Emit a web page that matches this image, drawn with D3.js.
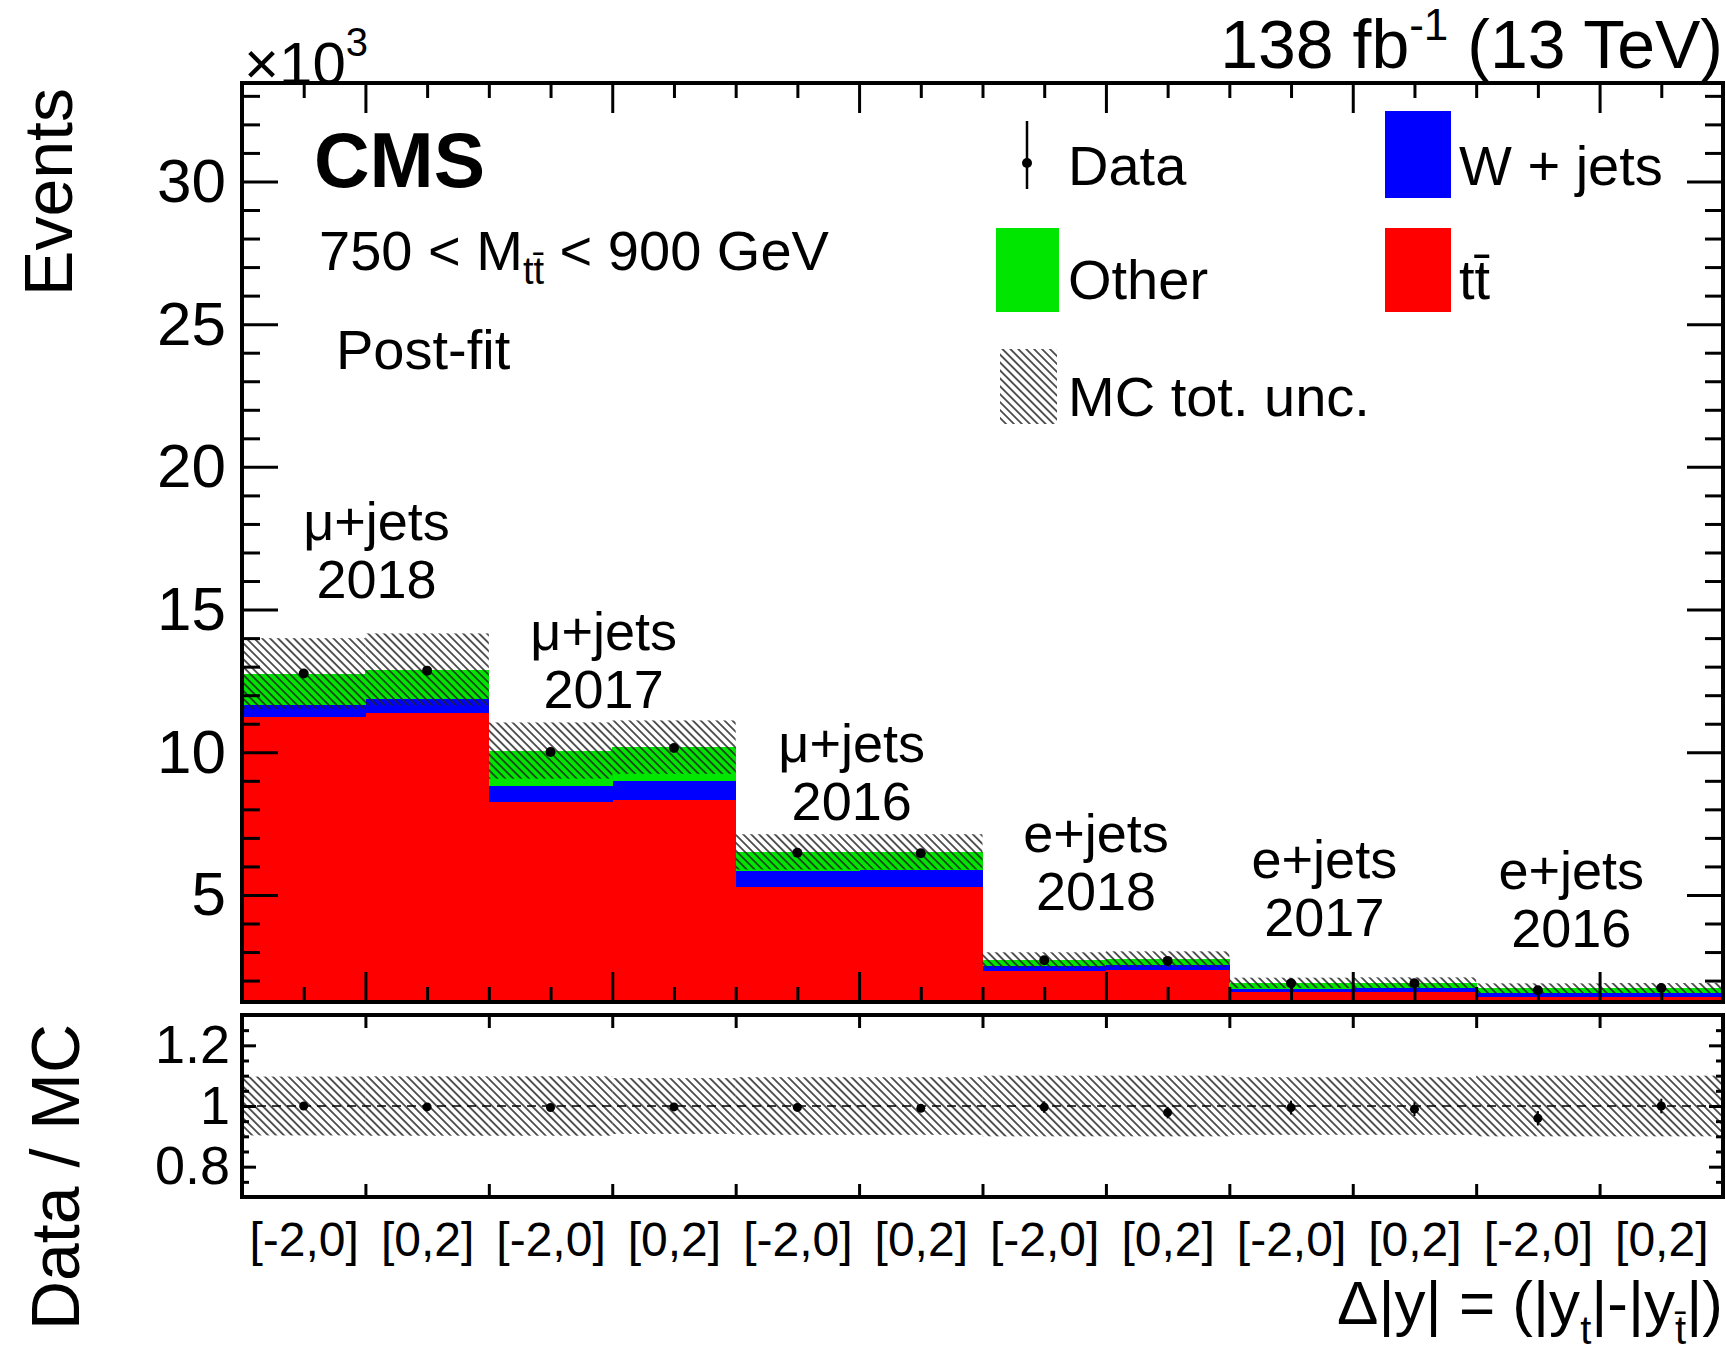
<!DOCTYPE html>
<html>
<head>
<meta charset="utf-8">
<script src="https://cdn.jsdelivr.net/npm/d3@7"></script>
<style>
  html, body { margin: 0; padding: 0; background: #fff; }
  svg { display: block; }
  text { font-family: "Liberation Sans", Arial, Helvetica, sans-serif; fill: #000; }
</style>
</head>
<body>
<svg id="chart" width="1726" height="1359"></svg>
<script>
// ---- data (events in units of 10^3) ----
const binLabels = ["[-2,0]", "[0,2]", "[-2,0]", "[0,2]", "[-2,0]", "[0,2]",
                   "[-2,0]", "[0,2]", "[-2,0]", "[0,2]", "[-2,0]", "[0,2]"];
const channelNames = ["\u03bc+jets", "\u03bc+jets", "\u03bc+jets", "e+jets", "e+jets", "e+jets"];
const channelYears = ["2018", "2017", "2016", "2018", "2017", "2016"];

const ttbar = [11.24, 11.41, 8.26, 8.33, 5.31, 5.31, 2.37, 2.40, 1.61, 1.62, 1.44, 1.45];
const wjets = [0.42, 0.49, 0.58, 0.68, 0.56, 0.58, 0.17, 0.17, 0.13, 0.13, 0.14, 0.14];
const other = [1.10, 1.00, 1.22, 1.17, 0.64, 0.62, 0.18, 0.18, 0.18, 0.18, 0.15, 0.15];
const dataVals = [12.76, 12.86, 10.01, 10.15, 6.48, 6.46, 2.71, 2.69, 1.91, 1.91, 1.66, 1.74];
const dataErr  = [0.113, 0.113, 0.100, 0.101, 0.080, 0.080, 0.052, 0.052, 0.044, 0.044, 0.041, 0.042];
// relative total MC uncertainty per bin
const mcUncRel = [0.097, 0.098, 0.098, 0.092, 0.095, 0.095, 0.10, 0.10, 0.095, 0.095, 0.10, 0.10];

const yTicksMain  = [5, 10, 15, 20, 25, 30];
const yTicksRatio = [0.8, 1, 1.2];

// ---- layout ----
const L = 242, R = 1723, T = 83, B = 1002, RT = 1015, RB = 1197;
const nb = binLabels.length;

// channel label anchors, in axis coordinates (bin units, 10^3 events of the second line)
const chanLabelPos = [[1.09, 15.41], [2.93, 11.55], [4.94, 7.63], [6.92, 4.47], [8.77, 3.56], [10.77, 3.18]];

const svg = d3.select("#chart");
const x  = d3.scaleLinear().domain([0, nb]).range([L, R]);
const y  = d3.scaleLinear().domain([1.25, 33.45]).range([B, T]);
const yr = d3.scaleLinear().domain([0.7, 1.3]).range([RB, RT]);

const defs = svg.append("defs");
defs.append("clipPath").attr("id", "clipMain")
  .append("rect").attr("x", L).attr("y", T).attr("width", R - L).attr("height", B - T);
defs.append("clipPath").attr("id", "clipRatio")
  .append("rect").attr("x", L).attr("y", RT).attr("width", R - L).attr("height", RB - RT);
const hatch = defs.append("pattern").attr("id", "hatch")
  .attr("patternUnits", "userSpaceOnUse").attr("width", 5.6).attr("height", 5.6)
  .attr("patternTransform", "rotate(-45)");
hatch.append("line").attr("x1", 2.8).attr("y1", 0).attr("x2", 2.8).attr("y2", 5.6)
  .attr("stroke", "#222").attr("stroke-width", 1.5);

// ---- main panel: stacked histograms ----
const rows = binLabels.map((b, i) => ({ i, tt: ttbar[i], w: wjets[i], o: other[i] }));
const stackKeys = ["tt", "w", "o"];
const colors = { tt: "#ff0000", w: "#0000ff", o: "#00e600" };
const layers = d3.stack().keys(stackKeys)(rows);
const totals = rows.map(r => r.tt + r.w + r.o);

const gMain = svg.append("g").attr("clip-path", "url(#clipMain)");
layers.forEach(layer => {
  gMain.append("g").attr("shape-rendering", "crispEdges")
    .selectAll("rect").data(layer).join("rect")
    .attr("x", d => x(d.data.i))
    .attr("width", d => x(d.data.i + 1) - x(d.data.i) + 0.5)
    .attr("y", d => y(d[1]))
    .attr("height", d => y(d[0]) - y(d[1]) + 0.5)
    .attr("fill", colors[layer.key]);
});
// MC uncertainty band
gMain.append("g").selectAll("rect").data(totals).join("rect")
  .attr("x", (t, i) => x(i))
  .attr("width", (t, i) => x(i + 1) - x(i))
  .attr("y", (t, i) => y(t * (1 + mcUncRel[i])))
  .attr("height", (t, i) => y(t * (1 - mcUncRel[i])) - y(t * (1 + mcUncRel[i])))
  .attr("fill", "url(#hatch)");
// data points
const gData = gMain.append("g");
gData.selectAll("line").data(dataVals).join("line")
  .attr("x1", (d, i) => x(i + 0.5)).attr("x2", (d, i) => x(i + 0.5))
  .attr("y1", (d, i) => y(d + dataErr[i])).attr("y2", (d, i) => y(d - dataErr[i]))
  .attr("stroke", "#000").attr("stroke-width", 2);
gData.selectAll("circle").data(dataVals).join("circle")
  .attr("cx", (d, i) => x(i + 0.5)).attr("cy", d => y(d)).attr("r", 5).attr("fill", "#000");

// ---- main panel axes (ticks inside the frame) ----
function styleAxis(g) {
  g.select(".domain").remove();
  g.selectAll(".tick line").attr("stroke", "#000").attr("stroke-width", 3);
}
const xMajor = [1, 3, 5, 7, 9, 11];
const xMinor = d3.range(0.5, nb, 0.5).filter(v => !xMajor.includes(v));
svg.append("g").attr("transform", `translate(0,${B})`)
  .call(d3.axisBottom(x).tickValues(xMajor).tickSize(-30).tickFormat("")).call(styleAxis);
svg.append("g").attr("transform", `translate(0,${B})`)
  .call(d3.axisBottom(x).tickValues(xMinor).tickSize(-15).tickFormat("")).call(styleAxis);
svg.append("g").attr("transform", `translate(0,${T})`)
  .call(d3.axisTop(x).tickValues(xMajor).tickSize(-30).tickFormat("")).call(styleAxis);
svg.append("g").attr("transform", `translate(0,${T})`)
  .call(d3.axisTop(x).tickValues(xMinor).tickSize(-15).tickFormat("")).call(styleAxis);

const yMinor = d3.range(2, 34).filter(v => v % 5 !== 0);
svg.append("g").attr("transform", `translate(${L},0)`)
  .call(d3.axisLeft(y).tickValues(yTicksMain).tickSize(-36).tickPadding(16).tickFormat(d3.format("d")))
  .call(styleAxis)
  .call(g => g.selectAll("text").attr("font-size", 62).attr("font-family", "Liberation Sans, Arial, sans-serif"));
svg.append("g").attr("transform", `translate(${L},0)`)
  .call(d3.axisLeft(y).tickValues(yMinor).tickSize(-18).tickFormat("")).call(styleAxis);
svg.append("g").attr("transform", `translate(${R},0)`)
  .call(d3.axisRight(y).tickValues(yTicksMain).tickSize(-36).tickFormat("")).call(styleAxis);
svg.append("g").attr("transform", `translate(${R},0)`)
  .call(d3.axisRight(y).tickValues(yMinor).tickSize(-18).tickFormat("")).call(styleAxis);

svg.append("rect").attr("x", L).attr("y", T).attr("width", R - L).attr("height", B - T)
  .attr("fill", "none").attr("stroke", "#000").attr("stroke-width", 4);

// ---- ratio panel ----
const gRatio = svg.append("g").attr("clip-path", "url(#clipRatio)");
gRatio.append("g").selectAll("rect").data(mcUncRel).join("rect")
  .attr("x", (u, i) => x(i)).attr("width", (u, i) => x(i + 1) - x(i))
  .attr("y", u => yr(1 + u)).attr("height", u => yr(1 - u) - yr(1 + u))
  .attr("fill", "url(#hatch)");
gRatio.append("line").attr("x1", L).attr("x2", R).attr("y1", yr(1)).attr("y2", yr(1))
  .attr("stroke", "#000").attr("stroke-width", 1.5).attr("stroke-dasharray", "9,6");
const ratioVals = dataVals.map((d, i) => d / totals[i]);
const ratioErr = dataErr.map((e, i) => e / totals[i]);
gRatio.append("g").selectAll("line").data(ratioVals).join("line")
  .attr("x1", (r, i) => x(i + 0.5)).attr("x2", (r, i) => x(i + 0.5))
  .attr("y1", (r, i) => yr(r + ratioErr[i])).attr("y2", (r, i) => yr(r - ratioErr[i]))
  .attr("stroke", "#000").attr("stroke-width", 2);
gRatio.append("g").selectAll("circle").data(ratioVals).join("circle")
  .attr("cx", (r, i) => x(i + 0.5)).attr("cy", r => yr(r)).attr("r", 4.5).attr("fill", "#000");

const xEdges = d3.range(1, nb);
svg.append("g").attr("transform", `translate(0,${RB})`)
  .call(d3.axisBottom(x).tickValues(xEdges).tickSize(-13).tickFormat("")).call(styleAxis);
svg.append("g").attr("transform", `translate(0,${RT})`)
  .call(d3.axisTop(x).tickValues(xEdges).tickSize(-13).tickFormat("")).call(styleAxis);
svg.append("g").attr("transform", `translate(0,${RB})`)
  .call(d3.axisBottom(x).tickValues(d3.range(nb).map(i => i + 0.5)).tickSize(0).tickPadding(25)
    .tickFormat(v => binLabels[Math.floor(v)]))
  .call(g => g.select(".domain").remove())
  .call(g => g.selectAll("text").attr("font-size", 48).attr("font-family", "Liberation Sans, Arial, sans-serif"));

const yrMinor = [0.75, 0.85, 0.9, 0.95, 1.05, 1.1, 1.15, 1.25];
svg.append("g").attr("transform", `translate(${L},0)`)
  .call(d3.axisLeft(yr).tickValues(yTicksRatio).tickSize(-14).tickPadding(12).tickFormat(d3.format("")))
  .call(styleAxis)
  .call(g => g.selectAll("text").attr("font-size", 54).attr("font-family", "Liberation Sans, Arial, sans-serif"));
svg.append("g").attr("transform", `translate(${L},0)`)
  .call(d3.axisLeft(yr).tickValues(yrMinor).tickSize(-7).tickFormat("")).call(styleAxis);
svg.append("g").attr("transform", `translate(${R},0)`)
  .call(d3.axisRight(yr).tickValues(yTicksRatio).tickSize(-14).tickFormat("")).call(styleAxis);
svg.append("g").attr("transform", `translate(${R},0)`)
  .call(d3.axisRight(yr).tickValues(yrMinor).tickSize(-7).tickFormat("")).call(styleAxis);

svg.append("rect").attr("x", L).attr("y", RT).attr("width", R - L).attr("height", RB - RT)
  .attr("fill", "none").attr("stroke", "#000").attr("stroke-width", 4);

// ---- channel labels ----
const gChan = svg.append("g").attr("font-size", 54).attr("text-anchor", "middle");
chanLabelPos.forEach((p, k) => {
  gChan.append("text").attr("x", x(p[0])).attr("y", y(p[1]) - 58).text(channelNames[k]);
  gChan.append("text").attr("x", x(p[0])).attr("y", y(p[1])).text(channelYears[k]);
});

// ---- headers ----
svg.append("text").attr("x", 314).attr("y", 187).attr("font-size", 77).attr("font-weight", "bold").text("CMS");
const mText = svg.append("text").attr("x", 319).attr("y", 270).attr("font-size", 56);
mText.append("tspan").text("750 < M");
mText.append("tspan").attr("font-size", 38).attr("dy", 14).text("t\u0074\u0304");
mText.append("tspan").attr("dy", -14).text(" < 900 GeV");
svg.append("text").attr("x", 336).attr("y", 369).attr("font-size", 56).text("Post-fit");

const lumi = svg.append("text").attr("x", R).attr("y", 68).attr("font-size", 68).attr("text-anchor", "end");
lumi.append("tspan").text("138 fb");
lumi.append("tspan").attr("font-size", 44).attr("dy", -28).text("-1");
lumi.append("tspan").attr("dy", 28).text(" (13 TeV)");

const expo = svg.append("text").attr("x", 244).attr("y", 84).attr("font-size", 60);
expo.append("tspan").text("\u00d710");
expo.append("tspan").attr("font-size", 40).attr("dy", -28).text("3");

// ---- legend ----
const gLeg = svg.append("g").attr("font-size", 56);
gLeg.append("line").attr("x1", 1027).attr("x2", 1027).attr("y1", 121).attr("y2", 189)
  .attr("stroke", "#000").attr("stroke-width", 2.5);
gLeg.append("circle").attr("cx", 1027).attr("cy", 163).attr("r", 5).attr("fill", "#000");
gLeg.append("text").attr("x", 1068).attr("y", 185).text("Data");
gLeg.append("rect").attr("x", 1385).attr("y", 111).attr("width", 66).attr("height", 87).attr("fill", colors.w);
gLeg.append("text").attr("x", 1459).attr("y", 185).text("W + jets");
gLeg.append("rect").attr("x", 996).attr("y", 228).attr("width", 63).attr("height", 84).attr("fill", colors.o);
gLeg.append("text").attr("x", 1068).attr("y", 299).text("Other");
gLeg.append("rect").attr("x", 1385).attr("y", 228).attr("width", 66).attr("height", 84).attr("fill", colors.tt);
gLeg.append("text").attr("x", 1459).attr("y", 299).text("t\u0074\u0304");
gLeg.append("rect").attr("x", 1000).attr("y", 349).attr("width", 57).attr("height", 75).attr("fill", "url(#hatch)");
gLeg.append("text").attr("x", 1068).attr("y", 416).text("MC tot. unc.");

// ---- axis titles ----
svg.append("text").attr("transform", "translate(72,88) rotate(-90)")
  .attr("text-anchor", "end").attr("font-size", 68).text("Events");
svg.append("text").attr("transform", "translate(79,1024) rotate(-90)")
  .attr("text-anchor", "end").attr("font-size", 68).text("Data / MC");

const xt = svg.append("text").attr("x", R).attr("y", 1324).attr("font-size", 62).attr("text-anchor", "end");
xt.append("tspan").text("\u0394|y| = (|y");
xt.append("tspan").attr("font-size", 40).attr("dy", 20).text("t");
xt.append("tspan").attr("dy", -20).text("|-|y");
xt.append("tspan").attr("font-size", 40).attr("dy", 20).text("t\u0304");
xt.append("tspan").attr("dy", -20).text("|)");
</script>
</body>
</html>
